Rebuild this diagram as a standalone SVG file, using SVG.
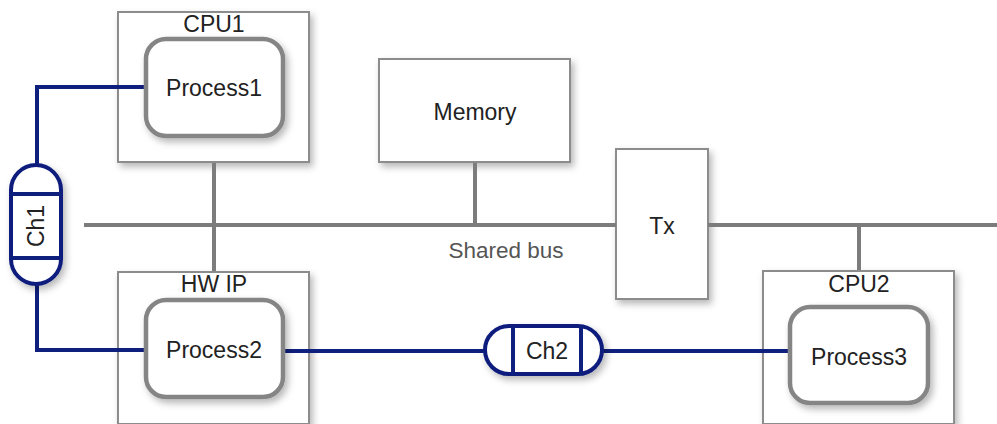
<svg xmlns="http://www.w3.org/2000/svg" width="997" height="424" viewBox="0 0 997 424">
  <defs>
    <filter id="shadow" x="-20%" y="-20%" width="150%" height="150%">
      <feDropShadow dx="3" dy="4" stdDeviation="3.5" flood-color="#000" flood-opacity="0.28"/>
    </filter>
    <style>
      .box { fill: #fff; stroke: #8c8c8c; stroke-width: 2; filter: url(#shadow); }
      .proc { fill: #fff; stroke: #858585; stroke-width: 4.5; filter: url(#shadow); }
      .bus { fill: none; stroke: #7c7c7c; stroke-width: 4; }
      .link { fill: none; stroke: #0f1f7d; stroke-width: 4; }
      .chan { fill: #fff; stroke: #0f1f7d; stroke-width: 4; filter: url(#shadow); }
      .bar { stroke: #0f1f7d; stroke-width: 4; }
      text { font-family: "Liberation Sans", Arial, sans-serif; fill: #222; text-anchor: middle; }
      .lbl { font-size: 23px; }
      .busl { font-size: 22.5px; fill: #555; }
    </style>
  </defs>

  <!-- enclosing units -->
  <g id="cpu1">
    <rect class="box" x="118" y="12" width="191" height="150"/>
    <text class="lbl" x="214" y="32">CPU1</text>
  </g>
  <g id="hwip">
    <rect class="box" x="118" y="272" width="191" height="152"/>
    <text class="lbl" x="214" y="292">HW IP</text>
  </g>
  <g id="cpu2">
    <rect class="box" x="763" y="271" width="191" height="153"/>
    <text class="lbl" x="859" y="292">CPU2</text>
  </g>
  <g id="memory">
    <rect class="box" x="379" y="59" width="191" height="103"/>
    <text class="lbl" x="475" y="120">Memory</text>
  </g>
  <g id="tx">
    <rect class="box" x="616" y="149" width="92" height="150"/>
    <text class="lbl" x="662" y="234">Tx</text>
  </g>

  <!-- shared bus, its taps and the channel links -->
  <g id="connectors">
    <line class="bus" x1="84" y1="225" x2="616" y2="225"/>
    <line class="bus" x1="708" y1="225" x2="997" y2="225"/>
    <line class="bus" x1="214" y1="163" x2="214" y2="271"/>
    <line class="bus" x1="475" y1="163" x2="475" y2="225"/>
    <line class="bus" x1="859" y1="225" x2="859" y2="270"/>
    <polyline class="link" points="147,87 37,87 37,165"/>
    <polyline class="link" points="37,284 37,350 148,350"/>
    <line class="link" x1="283" y1="351" x2="485" y2="351"/>
    <line class="link" x1="602" y1="351" x2="792" y2="351"/>
  </g>

  <text class="busl" x="506" y="258">Shared bus</text>

  <g id="process1">
    <rect class="proc" x="146" y="39" width="137" height="97" rx="20"/>
    <text class="lbl" x="214" y="96">Process1</text>
  </g>
  <g id="process2">
    <rect class="proc" x="146" y="300" width="137" height="97" rx="20"/>
    <text class="lbl" x="214" y="358">Process2</text>
  </g>
  <g id="process3">
    <rect class="proc" x="790" y="307" width="138" height="96" rx="20"/>
    <text class="lbl" x="859" y="365">Process3</text>
  </g>

  <g id="ch1">
    <rect class="chan" x="11" y="165" width="50" height="119" rx="25"/>
    <line class="bar" x1="11" y1="194" x2="61" y2="194"/>
    <line class="bar" x1="11" y1="258" x2="61" y2="258"/>
    <text class="lbl" transform="translate(44 226) rotate(-90)">Ch1</text>
  </g>

  <g id="ch2">
    <rect class="chan" x="485" y="326" width="117" height="48" rx="24"/>
    <line class="bar" x1="513" y1="326" x2="513" y2="374"/>
    <line class="bar" x1="581" y1="326" x2="581" y2="374"/>
    <text class="lbl" x="547" y="359">Ch2</text>
  </g>
</svg>
